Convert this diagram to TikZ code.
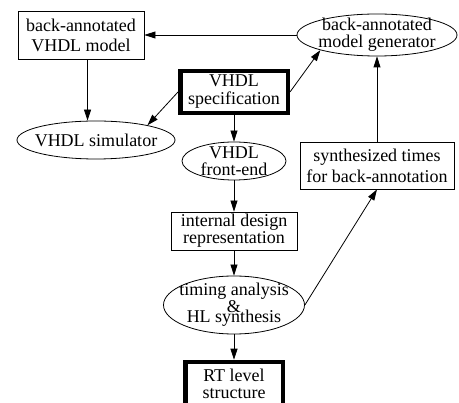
\documentclass[tikz,border=0pt]{standalone}
\usepackage{fontspec}
\setmainfont{Liberation Serif}
\usetikzlibrary{shapes.geometric,arrows.meta}

\begin{document}
\begin{tikzpicture}[x=1pt, y=-1pt, line width=0.8pt, >={Triangle[length=11pt,width=7pt]},
  box/.style = {draw, rectangle, inner sep=0pt, align=center},
  oval/.style = {draw, ellipse, inner sep=-20pt, align=center},
  bold/.style = {line width=4.5pt},
  fs/.style = {font=\fontsize{18}{#1}\selectfont}]
  \useasboundingbox (0,0) rectangle (459,403);
  \node[box, bold, fs=18, minimum width=107.5pt, minimum height=42pt] (spec) at (234,92) {VHDL\\specification};
  \node[oval, fs=17, minimum width=104pt, minimum height=38pt, below of=spec, node distance=69pt] (fe) {VHDL\\front-end};
  \node[box, fs=14, minimum width=126pt, minimum height=38pt, below of=fe, node distance=70pt] (idr) {internal design\\representation};
  \node[oval, fs=15, minimum width=141pt, minimum height=58pt, below of=idr, node distance=74pt] (tim) {timing analysis\\\&\\[-5pt]HL synthesis};
  \node[box, bold, fs=17, minimum width=97.5pt, minimum height=44pt, below of=tim, node distance=79pt] (rtl) {RT level\\structure};
  \node[oval, fs=18, minimum width=158pt, minimum height=38pt] (sim) at (96,140) {VHDL simulator};
  \node[box, fs=20, minimum width=126pt, minimum height=48pt] (bavm) at (81,35) {back-annotated\\VHDL model};
  \node[oval, fs=17, minimum width=160pt, minimum height=42pt] (bamg) at (377,35) {back-annotated\\model generator};
  \node[box, fs=21, minimum width=154pt, minimum height=47pt] (sbt) at (377,165.5) {synthesized times\\for back-annotation};
  \draw[->] (bamg) -- (bavm);
  \draw[->] (bavm.-75) -- (bavm.-75 |- sim.north);
  \draw[->] (spec.west) -- (sim.16);
  \draw[->] (spec.east) -- (bamg.195);
  \draw[->] (spec) -- (fe);
  \draw[->] (fe) -- (idr);
  \draw[->] (idr) -- (tim);
  \draw[->] (tim) -- (rtl);
  \draw[->] (tim.east) -- (sbt.south);
  \draw[->] (sbt) -- (bamg);
\end{tikzpicture}
\end{document}
